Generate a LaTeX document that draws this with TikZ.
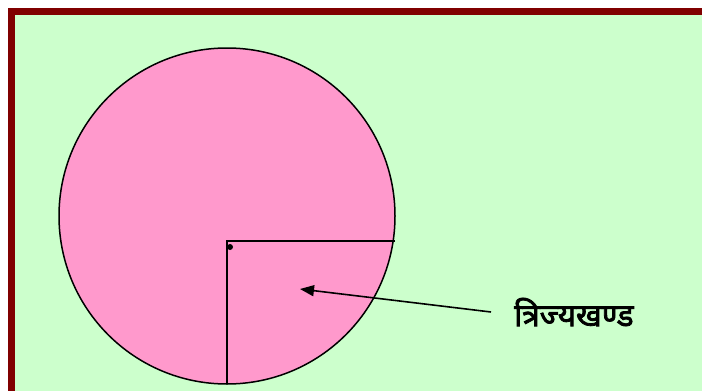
\documentclass[tikz,border=0pt]{standalone}
\usepackage{fontspec}
\newfontfamily\devfont[Script=Devanagari,FakeBold=2.5]{Noto Sans}
\usetikzlibrary{arrows.meta}
\definecolor{bgreen}{HTML}{CCFFCC}
\definecolor{cpink}{HTML}{FF99CC}
\definecolor{bred}{HTML}{800000}
\begin{document}
\begin{tikzpicture}[x=1pt,y=-1pt,
  ln/.style={line width=1.6pt,black},
  lbl/.style={font=\devfont\fontsize{31.5}{36}\selectfont,inner sep=0pt}]
\useasboundingbox (0,0) rectangle (702,391);
\fill[white] (0,0) rectangle (702,391);
\fill[bred] (8,8) rectangle (702,391);
\fill[bgreen] (14.5,15) rectangle (702,391);
\filldraw[fill=cpink,draw=black,line width=1.5pt] (227,216) circle[radius=168];
\coordinate (c) at (227,241);
\coordinate (r) at (395,241);
\coordinate (b) at (227,384);
\draw[ln] (r) -- (c) -- (b);
\fill (230,247) circle[radius=3];
\node[lbl,anchor=west] (t) at (514,312) {त्रिज्यखण्ड};
\coordinate (tip) at (300,289);
\coordinate (st) at (491,312);
\draw[ln,-{Triangle[length=14pt,width=11pt]}] (st) -- (tip);
\end{tikzpicture}
\end{document}
